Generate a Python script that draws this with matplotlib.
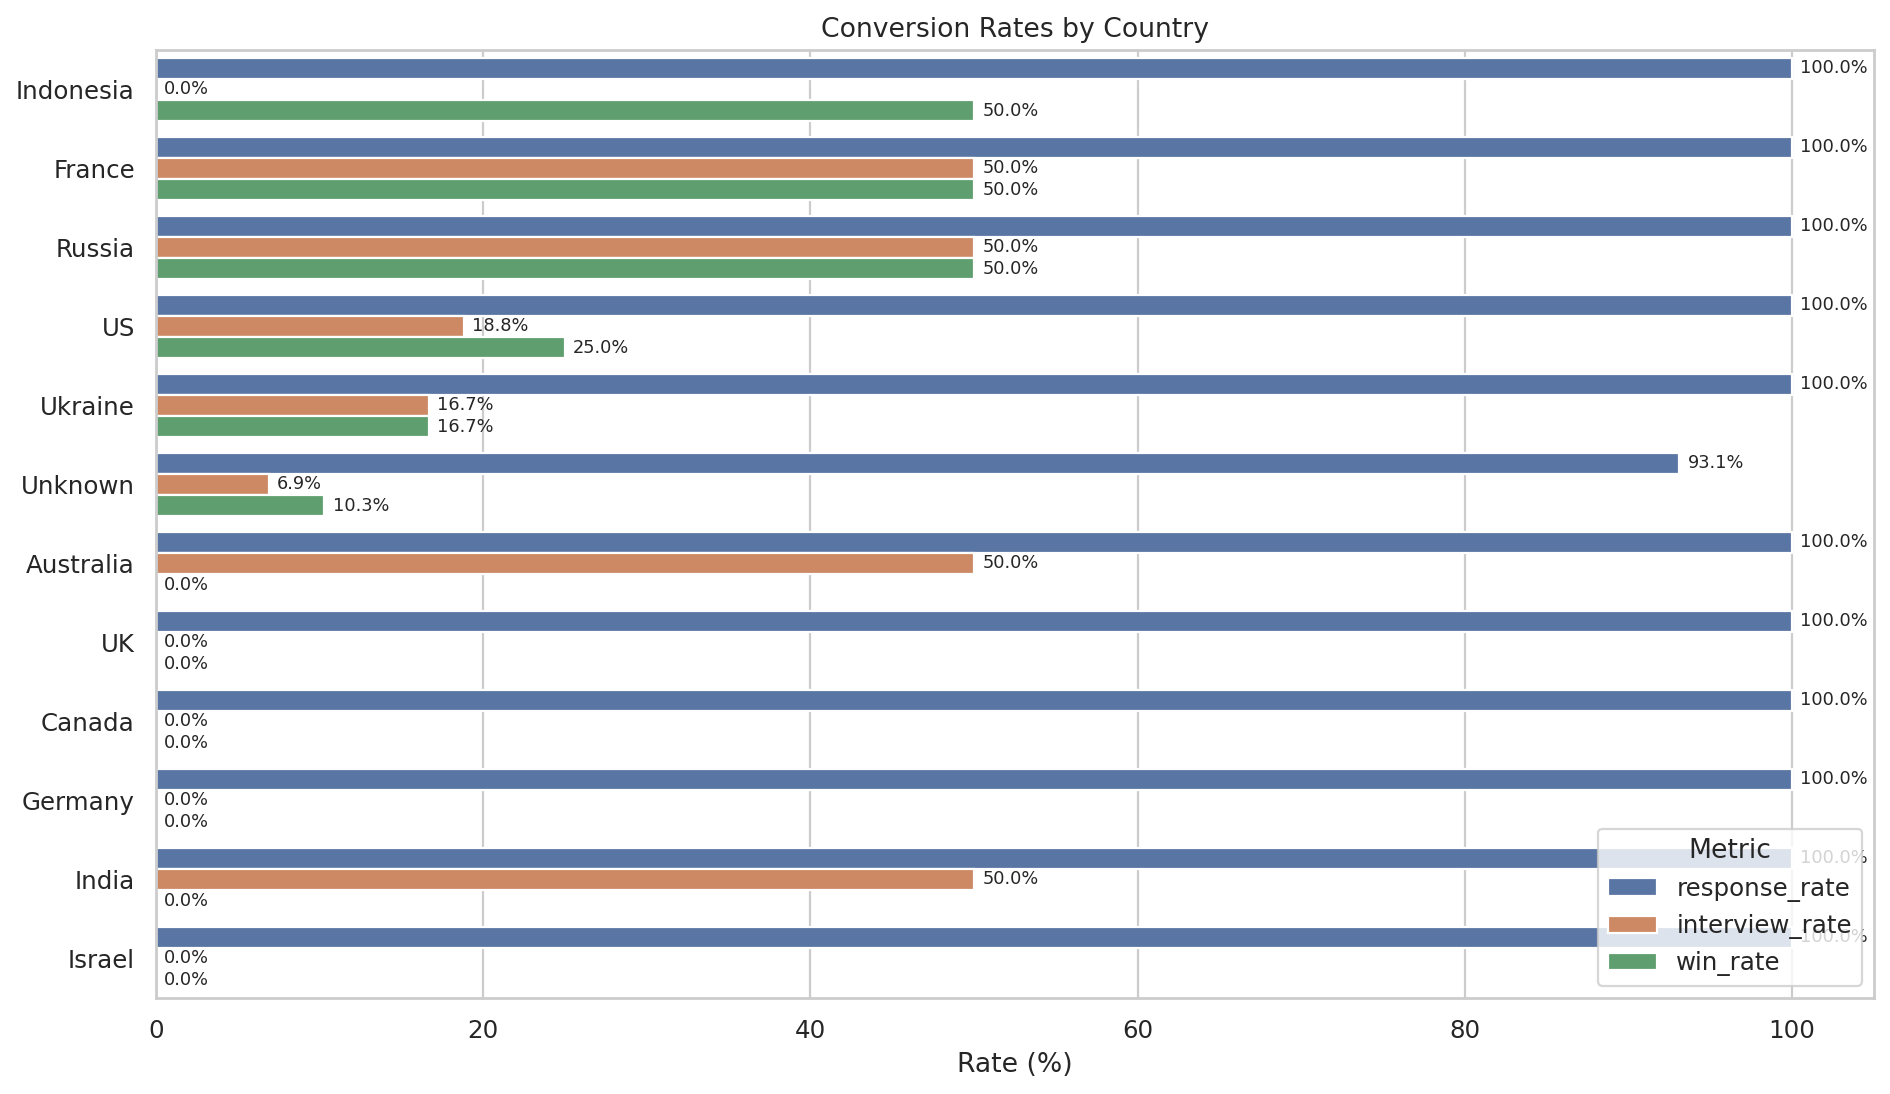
import matplotlib
matplotlib.use("Agg")
import matplotlib.pyplot as plt
import seaborn as sns
import pandas as pd

countries = ["Indonesia", "France", "Russia", "US", "Ukraine", "Unknown",
             "Australia", "UK", "Canada", "Germany", "India", "Israel"]
response_rate = [100.0, 100.0, 100.0, 100.0, 100.0, 93.1, 100.0, 100.0, 100.0, 100.0, 100.0, 100.0]
interview_rate = [0.0, 50.0, 50.0, 18.8, 16.7, 6.9, 50.0, 0.0, 0.0, 0.0, 50.0, 0.0]
win_rate = [50.0, 50.0, 50.0, 25.0, 16.7, 10.3, 0.0, 0.0, 0.0, 0.0, 0.0, 0.0]
metrics = ["response_rate", "interview_rate", "win_rate"]

sns.set_theme(style="whitegrid", context="notebook")
plt.rcParams['font.family'] = ['DejaVu Sans']

rows = []
for i, c in enumerate(countries):
    for m, vals in zip(metrics, [response_rate, interview_rate, win_rate]):
        rows.append({"country": c, "Metric": m, "rate": vals[i]})
df = pd.DataFrame(rows)

DPI = 160
fig = plt.figure(figsize=(1890 / DPI, 1094 / DPI), dpi=DPI)
ax = fig.add_axes([0.0825, 0.0878, 0.909, 0.8665])
sns.barplot(data=df, y="country", x="rate", hue="Metric", order=countries,
            hue_order=metrics, orient="h", ax=ax)

for cont in ax.containers:
    for bar in cont:
        w = bar.get_width()
        ax.text(w + 0.5, bar.get_y() + bar.get_height() / 2, f"{w:.1f}%",
                va="center", ha="left", fontsize=8)

ax.set_title("Conversion Rates by Country")
ax.set_xlabel("Rate (%)")
ax.set_ylabel("")
ax.legend(title="Metric", loc="lower right")
fig.savefig("out.png", dpi=DPI)
